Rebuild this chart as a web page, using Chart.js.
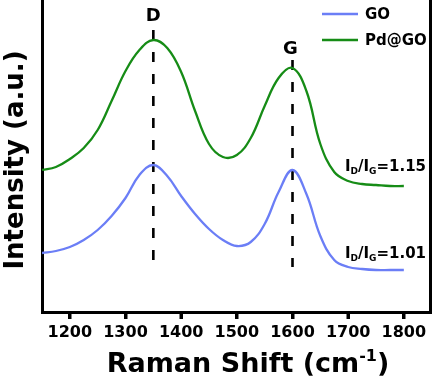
<!DOCTYPE html>
<html>
<head>
<meta charset="utf-8">
<script src="https://cdn.jsdelivr.net/npm/chart.js@4/dist/chart.umd.min.js"></script>
<style>
  html,body{margin:0;padding:0;background:#fff;}
  #wrap{width:434px;height:381px;position:relative;}
</style>
</head>
<body>
<div id="wrap"><canvas id="c" width="434" height="381"></canvas></div>
<script>
// ---- data ----
const ramanShift = [1150,1175,1200,1225,1250,1275,1300,1325,1350,1375,1400,1425,1450,1475,1500,1525,1550,1575,1600,1625,1650,1675,1700,1725,1750,1775,1800];
const goIntensity = [59,61,65,72,82,96,114,137,147,136,116,98,83,72,66,70,88,120,142,118,76,52,45,43,42,42,42];
const pdgoIntensity = [142,145,153,164,182,211,241,262,272,264,240,201,168,155,157,174,206,234,244,221,168,140,131,128,127,126,126];
const seriesNames = ['GO','Pd@GO'];
const xTicks = [1200,1300,1400,1500,1600,1700,1800];
const peakPositions = [1350,1600];
const peakLabels = ['D','G'];
const dashTop = [282,252];
const dashBottom = [40,45];
const ratioLabels = ['1.15','1.01'];
const ratioValueY = [141,54];

const colors = ['#6b7ef6','#168c16'];
const FONT = '"DejaVu Sans", "Liberation Sans", sans-serif';

const datasets = [
  {label:seriesNames[0], data:ramanShift.map((x,i)=>({x, y:goIntensity[i]})), borderColor:colors[0]},
  {label:seriesNames[1], data:ramanShift.map((x,i)=>({x, y:pdgoIntensity[i]})), borderColor:colors[1]}
].map(d=>Object.assign(d,{borderWidth:2.3,pointRadius:0,fill:false,tension:0.4}));

peakPositions.forEach((p,i)=>{
  datasets.push({label:'dash'+i, data:[{x:p,y:dashTop[i]},{x:p,y:dashBottom[i]}],
    borderColor:'#000', borderWidth:2.6, borderDash:[10,12], pointRadius:0, fill:false, tension:0});
});

function drawParts(ctx, parts, x, y, align){
  let w = 0;
  parts.forEach(p=>{ ctx.font = 'bold '+p.size+'px '+FONT; p.w = ctx.measureText(p.t).width; w += p.w; });
  let cx = align==='right' ? x - w : (align==='center' ? x - w/2 : x);
  ctx.textAlign = 'left'; ctx.textBaseline = 'alphabetic';
  parts.forEach(p=>{ ctx.font = 'bold '+p.size+'px '+FONT; ctx.fillText(p.t, cx, y + (p.dy||0)); cx += p.w; });
}

const annot = {
  id:'annot',
  afterDraw(chart){
    const ctx = chart.ctx, xs = chart.scales.x, ys = chart.scales.y;
    ctx.save();
    ctx.fillStyle = '#000';
    // x tick marks (outward)
    ctx.fillStyle = '#000';
    xTicks.forEach(v=>{
      const px = Math.round(xs.getPixelForValue(v));
      ctx.fillRect(px - 1.5, chart.chartArea.bottom, 3, 7);
    });
    // peak labels
    ctx.font = 'bold 18px '+FONT; ctx.textAlign='center'; ctx.textBaseline='middle';
    const labY = [295.5, 263];
    const labDx = [0, -2];
    peakPositions.forEach((p,i)=>{
      ctx.fillText(peakLabels[i], xs.getPixelForValue(p)+labDx[i], ys.getPixelForValue(labY[i]));
    });
    // ratio labels
    ratioLabels.forEach((r,i)=>{
      drawParts(ctx, [
        {t:'I',size:15},{t:'D',size:9,dy:3},{t:'/I',size:15},{t:'G',size:9,dy:3},{t:'='+r,size:15}
      ], 426, ys.getPixelForValue(ratioValueY[i]), 'right');
    });
    // legend
    const lg = [{y:14},{y:40}];
    lg.forEach((l,i)=>{
      ctx.strokeStyle = colors[i]; ctx.lineWidth = 2.3; ctx.setLineDash([]);
      ctx.beginPath(); ctx.moveTo(322,l.y); ctx.lineTo(358,l.y); ctx.stroke();
      ctx.font = 'bold 15px '+FONT; ctx.textAlign='left'; ctx.textBaseline='middle';
      ctx.fillStyle='#000';
      ctx.fillText(seriesNames[i], 365, l.y+1);
    });
    // x axis title
    drawParts(ctx, [
      {t:'Raman Shift (cm',size:27},{t:'-1',size:16,dy:-11},{t:')',size:27}
    ], 248, 372, 'center');
    // y axis title
    ctx.translate(23,160); ctx.rotate(-Math.PI/2);
    ctx.font = 'bold 26px '+FONT; ctx.textAlign='center'; ctx.textBaseline='alphabetic';
    ctx.fillText('Intensity (a.u.)',0,0);
    ctx.restore();
  }
};

new Chart(document.getElementById('c'), {
  type:'line',
  data:{datasets},
  options:{
    responsive:false, animation:false,
    layout:{padding:0},
    plugins:{legend:{display:false}, tooltip:{enabled:false}},
    scales:{
      x:{type:'linear', position:'bottom', min:1150, max:1847,
        afterBuildTicks(s){ s.ticks = xTicks.map(v=>({value:v})); },
        afterFit(s){ s.height = 69; },
        ticks:{color:'#000', font:{family:FONT, size:16, weight:'bold'}, padding:4, maxRotation:0, autoSkip:false,
          callback:(v)=>String(v)},
        grid:{display:true, drawOnChartArea:false, drawTicks:true, tickLength:7, color:'#000', lineWidth:3},
        border:{display:true, color:'#000', width:3},
        title:{display:false}
      },
      y:{type:'linear', position:'left', min:0, max:312,
        afterFit(s){ s.width = 42; },
        ticks:{display:false}, grid:{display:false},
        border:{display:true, color:'#000', width:3}
      },
      y2:{type:'linear', position:'right', min:0, max:312,
        afterFit(s){ s.width = 4; },
        ticks:{display:false}, grid:{display:false},
        border:{display:true, color:'#000', width:3}
      }
    }
  },
  plugins:[annot]
});
</script>
</body>
</html>
